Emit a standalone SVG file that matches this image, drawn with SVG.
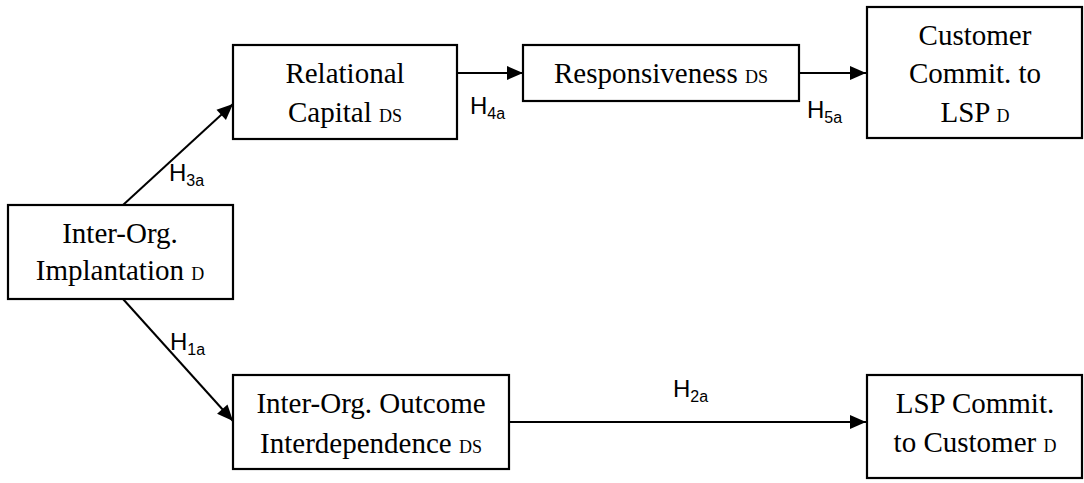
<svg xmlns="http://www.w3.org/2000/svg" width="1084" height="483" viewBox="0 0 1084 483">
<style>
.box{fill:#fff;stroke:#000;stroke-width:2.2}
.t{font-family:"Liberation Serif","Times New Roman",serif;font-size:29px;fill:#000;text-anchor:middle}
.s{font-size:18px}
.c{stroke:#000;stroke-width:2;fill:none}
.h{font-family:"Liberation Sans",Arial,sans-serif;font-size:24px;fill:#000}
.hs{font-size:16px}
</style>
<defs>
<marker id="ah" viewBox="0 0 10 10" refX="10" refY="5" markerWidth="10" markerHeight="10" markerUnits="userSpaceOnUse" orient="auto" overflow="visible">
<path d="M-6,-2 L10,5 L-6,12 z" fill="#000"/>
</marker>
</defs>
<rect width="1084" height="483" fill="#fff"/>
<g id="connectors">
<line class="c" x1="123" y1="205" x2="233" y2="104" marker-end="url(#ah)"/>
<line class="c" x1="123" y1="299" x2="233" y2="421" marker-end="url(#ah)"/>
<line class="c" x1="457" y1="73" x2="523" y2="73" marker-end="url(#ah)"/>
<line class="c" x1="799" y1="73" x2="866" y2="73" marker-end="url(#ah)"/>
<line class="c" x1="509" y1="422" x2="866" y2="422" marker-end="url(#ah)"/>
<text class="h" x="169" y="181">H<tspan class="hs" dy="5">3a</tspan></text>
<text class="h" x="170" y="350">H<tspan class="hs" dy="5">1a</tspan></text>
<text class="h" x="470" y="114">H<tspan class="hs" dy="5">4a</tspan></text>
<text class="h" x="807" y="118">H<tspan class="hs" dy="5">5a</tspan></text>
<text class="h" x="673" y="397">H<tspan class="hs" dy="5">2a</tspan></text>
</g>
<g id="n-implantation">
<rect class="box" x="8" y="205" width="225" height="94"/>
<text class="t" x="120" y="243">Inter-Org.</text>
<text class="t" x="120" y="280">Implantation <tspan class="s">D</tspan></text>
</g>
<g id="n-relational">
<rect class="box" x="233" y="45" width="224" height="94"/>
<text class="t" x="345" y="83">Relational</text>
<text class="t" x="345" y="122">Capital <tspan class="s">DS</tspan></text>
</g>
<g id="n-responsiveness">
<rect class="box" x="523" y="45" width="276" height="56"/>
<text class="t" x="661" y="83">Responsiveness <tspan class="s">DS</tspan></text>
</g>
<g id="n-customer">
<rect class="box" x="867" y="7" width="215" height="131"/>
<text class="t" x="975" y="45">Customer</text>
<text class="t" x="975" y="83">Commit. to</text>
<text class="t" x="975" y="122">LSP <tspan class="s">D</tspan></text>
</g>
<g id="n-outcome">
<rect class="box" x="233" y="375" width="276" height="94"/>
<text class="t" x="371" y="413">Inter-Org. Outcome</text>
<text class="t" x="371" y="453">Interdependence <tspan class="s">DS</tspan></text>
</g>
<g id="n-lsp">
<rect class="box" x="867" y="375" width="215" height="103"/>
<text class="t" x="975" y="413">LSP Commit.</text>
<text class="t" x="975" y="452">to Customer <tspan class="s">D</tspan></text>
</g>
</svg>
